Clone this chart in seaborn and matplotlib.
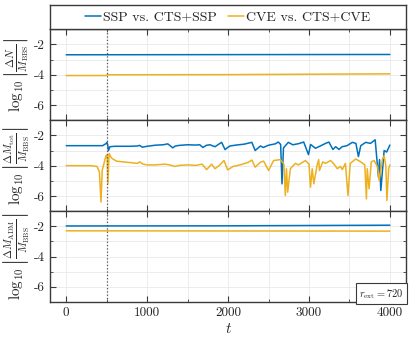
import numpy as np
import pandas as pd
import matplotlib
matplotlib.use("Agg")
import matplotlib.pyplot as plt
from matplotlib.ticker import MultipleLocator
from matplotlib.lines import Line2D
import seaborn as sns

# ---------------- data ----------------
series_names = ["SSP vs. CTS+SSP", "CVE vs. CTS+CVE"]
colors = ["#0072BD", "#EDB120"]

# panel 1: log10|dN/M_BBS|
t_n_ssp = [0, 4000]
v_n_ssp = [-2.68, -2.66]
t_n_cve = [0, 490, 510, 2000, 3500, 4000]
v_n_cve = [-4.05, -4.05, -4.0, -3.99, -3.95, -3.94]

# panel 2: log10|dM_tot/M_BBS|
t_m_ssp = [0, 300, 450, 490, 505, 515, 522, 540, 600, 700, 800, 880, 907, 940, 1000,
           1100, 1200, 1255, 1317, 1350, 1400, 1500, 1600, 1650, 1690, 1730, 1776, 1839,
           1880, 1921, 1963, 2000, 2025, 2100, 2200, 2294, 2335, 2400, 2435, 2500, 2584,
           2621, 2650, 2667, 2685, 2745, 2800, 2870, 2935, 2994, 3020, 3080, 3140, 3205,
           3246, 3296, 3330, 3371, 3410, 3470, 3536, 3580, 3611, 3640, 3702, 3760, 3818,
           3859, 3872, 3888, 3929, 3960, 4000]
v_m_ssp = [-2.68, -2.68, -2.68, -2.55, -2.46, -2.7, -3.0, -2.75, -2.72, -2.72, -2.72, -2.7,
           -2.66, -2.78, -2.72, -2.65, -2.62, -2.56, -2.82, -2.7, -2.66, -2.62, -2.64, -2.62,
           -2.8, -2.66, -2.62, -2.75, -2.6, -2.46, -2.94, -2.78, -2.7, -2.64, -2.58, -2.46,
           -3.0, -2.7, -2.8, -2.65, -2.56, -2.44, -2.6, -5.2, -2.83, -2.46, -2.62, -2.55,
           -2.44, -3.27, -2.6, -2.85, -2.7, -2.53, -2.44, -2.93, -2.75, -2.93, -2.75, -2.68,
           -2.46, -2.53, -3.4, -2.68, -2.46, -2.53, -2.29, -4.76, -3.6, -5.64, -3.0, -3.1,
           -2.64]
t_m_cve = [0, 300, 380, 410, 430, 445, 470, 490, 505, 515, 530, 560, 620, 700, 800, 880,
           907, 950, 1000, 1100, 1220, 1280, 1342, 1400, 1500, 1600, 1680, 1735, 1797, 1839,
           1900, 1950, 1996, 2062, 2150, 2250, 2294, 2335, 2398, 2440, 2501, 2563, 2646,
           2690, 2708, 2722, 2737, 2770, 2832, 2870, 2957, 3000, 3019, 3040, 3060, 3101,
           3120, 3130, 3170, 3205, 3267, 3310, 3350, 3390, 3412, 3450, 3482, 3510, 3578,
           3640, 3690, 3710, 3720, 3743, 3770, 3805, 3850, 3867, 3909, 3929, 3950, 3963,
           3985, 4000]
v_m_cve = [-4.0, -4.0, -4.05, -4.4, -6.4, -4.3, -3.8, -3.35, -3.3, -5.2, -3.2, -3.5, -3.7,
           -3.75, -3.8, -3.85, -3.75, -3.9, -3.95, -3.95, -3.9, -3.95, -4.05, -3.98, -3.95,
           -3.98, -3.9, -4.26, -3.9, -4.2, -3.95, -3.66, -4.28, -4.05, -3.95, -3.78, -3.63,
           -4.1, -3.78, -3.7, -4.32, -3.66, -3.6, -3.9, -5.97, -4.2, -5.75, -4.2, -3.85,
           -3.95, -3.66, -3.9, -5.42, -4.2, -5.2, -3.95, -3.6, -4.32, -3.75, -3.85, -3.66,
           -3.9, -4.2, -4.05, -4.26, -3.85, -5.97, -3.85, -3.56, -3.75, -3.95, -6.19, -4.2,
           -5.53, -3.75, -3.66, -4.1, -4.98, -3.56, -3.35, -4.0, -6.3, -4.2, -3.95]

# panel 3: log10|dM_ADM/M_BBS|
t_a_ssp = [0, 2000, 3000, 4000]
v_a_ssp = [-1.98, -1.97, -1.95, -1.93]
t_a_cve = [0, 4000]
v_a_cve = [-2.3, -2.32]

ylabels = [r"$\log_{10}\left|\frac{\Delta N}{M_{\rm BBS}}\right|$",
           r"$\log_{10}\left|\frac{\Delta M_{\rm tot}}{M_{\rm BBS}}\right|$",
           r"$\log_{10}\left|\frac{\Delta M_{\rm ADM}}{M_{\rm BBS}}\right|$"]
yticks = [-2, -4, -6]
xticks = [0, 1000, 2000, 3000, 4000]
t_event = 500
annot = r"$r_{\rm ext} = 720$"

# ---------------- style ----------------
sns.set_style("ticks")
plt.rcParams.update({
    "font.family": "serif",
    "font.serif": ["cmr10", "DejaVu Serif"],
    "mathtext.fontset": "cm",
    "axes.unicode_minus": False,
    "axes.formatter.use_mathtext": False,
    "axes.edgecolor": "#3a3a3a",
    "axes.linewidth": 1.0,
})

fig = plt.figure(figsize=(4.11, 3.43), dpi=100)
left, width = 0.1217, 0.8663
ph = 0.265
bottoms = [0.1195 + 2 * ph, 0.1195 + ph, 0.1195]
axes = [fig.add_axes([left, b, width, ph]) for b in bottoms]

panels = [
    ((t_n_ssp, v_n_ssp), (t_n_cve, v_n_cve)),
    ((t_m_ssp, v_m_ssp), (t_m_cve, v_m_cve)),
    ((t_a_ssp, v_a_ssp), (t_a_cve, v_a_cve)),
]

for i, (ax, (s1, s2)) in enumerate(zip(axes, panels)):
    df = pd.concat([
        pd.DataFrame({"t": s1[0], "v": s1[1], "s": series_names[0]}),
        pd.DataFrame({"t": s2[0], "v": s2[1], "s": series_names[1]}),
    ], ignore_index=True)
    sns.lineplot(data=df, x="t", y="v", hue="s", palette=colors, hue_order=series_names,
                 ax=ax, legend=False, linewidth=1.1, estimator=None, sort=False)
    ax.axvline(t_event, color="#555555", linestyle=":", linewidth=0.9)
    ax.set_xlim(-200, 4200)
    ax.set_ylim(-7, -1)
    ax.set_yticks(yticks)
    ax.yaxis.set_minor_locator(MultipleLocator(1))
    ax.set_xticks(xticks)
    ax.xaxis.set_minor_locator(MultipleLocator(500))
    ax.grid(True, which="both", color="#e9e9e9", linewidth=0.6)
    ax.set_axisbelow(True)
    ax.tick_params(which="both", direction="in", top=True, right=True,
                   labelsize=9.5, color="#3a3a3a")
    ax.tick_params(which="major", length=4)
    ax.tick_params(which="minor", length=2.5)
    ax.set_ylabel(ylabels[i], fontsize=11, labelpad=2)
    if i < 2:
        ax.tick_params(labelbottom=False)
        ax.set_xlabel("")
    else:
        ax.set_xlabel(r"$t$", fontsize=11, labelpad=2)

axes[2].text(0.993, 0.015, annot, transform=axes[2].transAxes, ha="right", va="bottom",
             fontsize=7.5, bbox=dict(boxstyle="square,pad=0.35", facecolor="white",
                                     edgecolor="#3a3a3a", linewidth=0.8))

# legend box on top
ax_leg = fig.add_axes([left, 0.1195 + 3 * ph, width, 0.985 - (0.1195 + 3 * ph)])
ax_leg.set_xticks([])
ax_leg.set_yticks([])
handles = [Line2D([0], [0], color=c, linewidth=1.1) for c in colors]
ax_leg.legend(handles, series_names, loc="center", ncol=2, frameon=False, fontsize=10,
              handlelength=1.1, handletextpad=0.2, columnspacing=0.8,
              borderaxespad=0, borderpad=0)

fig.savefig("out.png", dpi=100)
